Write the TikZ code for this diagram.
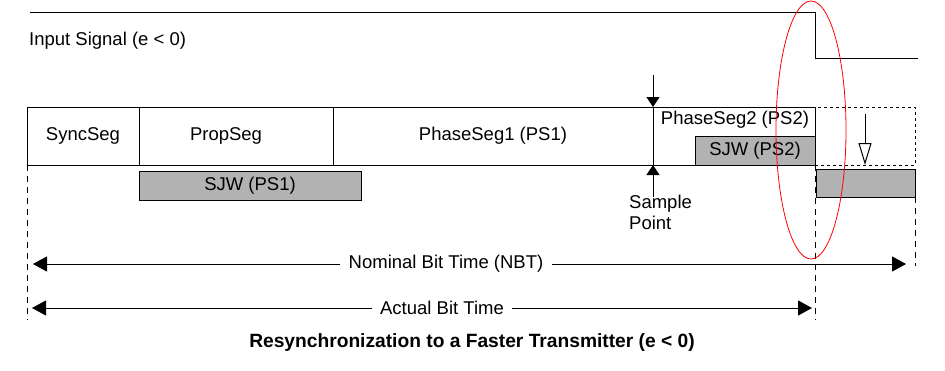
\documentclass[tikz,border=0pt]{standalone}
\usepackage{fontspec}
\setmainfont{Liberation Sans}
\usetikzlibrary{positioning, arrows.meta, calc}

\begin{document}
\begin{tikzpicture}[
    x=1pt, y=-1pt,
    every node/.style={font=\fontsize{18.5}{21}\selectfont, inner sep=0pt},
    segbox/.style={
        draw, line width=1pt, anchor=north west,
        minimum height=58pt, outer sep=0pt
    },
    sjwbox/.style={
        draw, line width=1pt, fill=gray!60, anchor=north west,
        minimum height=29pt, outer sep=0pt
    },
    nextbox/.style={
        draw, line width=1pt, dash pattern=on 3pt off 3pt, anchor=north west,
        minimum height=58pt, outer sep=0pt
    },
    sigline/.style={line width=1pt},
    vdash/.style={line width=1pt, dash pattern=on 6pt off 5pt},
    sptip/.style={line width=1pt, -{Triangle[length=10pt, width=13pt]}},
    dimarrow/.style={line width=1pt, -{Triangle[length=14pt, width=15pt]}},
    hollowtip/.style={line width=1pt, -{Triangle[open, length=22pt, width=13pt]}},
    ttl/.style={font=\fontsize{19.2}{22}\selectfont\bfseries},
]

\useasboundingbox (0,0) rectangle (945,370);

% Column x-coordinates
\def\xA{27}
\def\xB{139}
\def\xC{333}
\def\xD{653}
\def\xE{815}
\def\xF{915}

% Row y-coordinates
\def\yTop{107}

% ====== INPUT SIGNAL ======
\node[anchor=west] (insig) at (29,41) {Input Signal (e < 0)};
\coordinate (sigA) at (30,12);
\coordinate (sigB) at (\xE,12);
\coordinate (sigC) at (\xE,58);
\coordinate (sigD) at (918,58);
\draw[sigline] (sigA) -- (sigB) -- (sigC) -- (sigD);

% ====== BIT SEGMENTS ======
\node[segbox, minimum width=112pt] (sync) at (\xA,\yTop) {SyncSeg};
\node[segbox, minimum width=194pt] (prop) at (\xB,\yTop) {};
\node (proplbl) at ($(prop.center)+(-10,0)$) {PropSeg};
\node[segbox, minimum width=320pt] (ps1) at (\xC,\yTop) {PhaseSeg1 (PS1)};
\node[segbox, minimum width=162pt] (ps2) at (\xD,\yTop) {};
\node (ps2lbl) at ($(ps2.north)+(1,13)$) {PhaseSeg2 (PS2)};
\node[nextbox, minimum width=100pt] (nxt) at (\xE,\yTop) {};

% SJW boxes
\node[sjwbox, minimum width=222pt] (sjw1) at (\xB,171) {SJW (PS1)};
\node[sjwbox, minimum width=120pt] (sjw2) at (695,136) {SJW (PS2)};
\node[sjwbox, minimum width=99pt, minimum height=28pt] (sjw3) at (816,169) {};

% Shortened phase segment
\coordinate (hA) at (865,114);
\draw[hollowtip] (hA) -- (hA |- nxt.south);

% ====== SAMPLE POINT ======
\coordinate (spTop) at (\xD,75);
\coordinate (spBot) at (\xD,197);
\draw[sptip] (spTop) -- (ps1.north east);
\draw[sptip] (spBot) -- (ps1.south east);
\node[anchor=north west, align=left] (splbl) at (629,195) {Sample\\Point};

% ====== BIT TIME ======
\draw[vdash] (sync.south west) -- (\xA,320);
\draw[vdash] (nxt.south west) -- (\xE,320);
\draw[vdash] (sjw3.south east) -- (\xF,266);

\node[inner xsep=8pt] (nbt) at (446,264) {Nominal Bit Time (NBT)};
\coordinate (nbtL) at (33,264);
\coordinate (nbtR) at (906,264);
\draw[dimarrow] (nbt) -- (nbtL);
\draw[dimarrow] (nbt) -- (nbtR);

\node[inner xsep=8pt] (abt) at (442,308) {Actual Bit Time};
\coordinate (abtL) at (32,308);
\coordinate (abtR) at (812,308);
\draw[dimarrow] (abt) -- (abtL);
\draw[dimarrow] (abt) -- (abtR);

\node[ttl] (title) at (472,343) {Resynchronization to a Faster Transmitter (e < 0)};

% ====== MARK ======
\draw[red, line width=0.8pt] (811,130) ellipse [x radius=35, y radius=129];

\end{tikzpicture}
\end{document}
